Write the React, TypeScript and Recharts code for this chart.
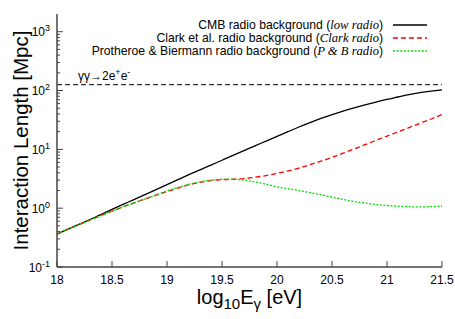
import React from 'react';
import { LineChart, Line, XAxis, YAxis, ReferenceLine, Legend } from 'recharts';

const energies = [
  18.0, 18.1, 18.2, 18.3, 18.4, 18.5, 18.6, 18.7, 18.8, 18.9,
  19.0, 19.1, 19.2, 19.3, 19.4, 19.5, 19.6, 19.7, 19.8, 19.9,
  20.0, 20.1, 20.2, 20.3, 20.4, 20.5, 20.6, 20.7, 20.8, 20.9,
  21.0, 21.1, 21.2, 21.3, 21.4, 21.5,
];

const cmbLength = [
  0.363, 0.44, 0.53, 0.64, 0.78, 0.955, 1.16, 1.4, 1.7, 2.07,
  2.51, 3.05, 3.72, 4.47, 5.4, 6.53, 7.89, 9.5, 11.5, 13.8,
  16.6, 19.95, 24.0, 28.5, 33.5, 38.9, 44.7, 50.7, 57.1, 63.8,
  70.8, 77.6, 85.1, 91.8, 97.7, 103,
];

const clarkLength = [
  0.363, 0.44, 0.525, 0.63, 0.75, 0.89, 1.05, 1.23, 1.43, 1.66,
  1.92, 2.2, 2.5, 2.75, 2.95, 3.04, 3.1, 3.18, 3.35, 3.58,
  3.9, 4.3, 4.8, 5.5, 6.3, 7.3, 8.6, 10.1, 12.0, 14.2,
  16.8, 19.8, 23.4, 27.7, 32.8, 39,
];

const pbLength = [
  0.363, 0.44, 0.525, 0.63, 0.75, 0.89, 1.05, 1.23, 1.44, 1.68,
  1.96, 2.25, 2.55, 2.8, 3.0, 3.1, 3.1, 3.0, 2.8, 2.55,
  2.3, 2.14, 1.99, 1.84, 1.69, 1.54, 1.41, 1.3, 1.22, 1.15,
  1.11, 1.08, 1.06, 1.05, 1.06, 1.08,
];

const pairThreshold = 126;

const xTicks = [18, 18.5, 19, 19.5, 20, 20.5, 21, 21.5];
const yMajorTicks = [0.1, 1, 10, 100, 1000];
const yMajorExponents = ['-1', '0', '1', '2', '3'];
const yMinorMultipliers = [2, 3, 4, 5, 6, 7, 8, 9];
const yAllTicks = [
  ...yMajorTicks,
  ...yMajorTicks.slice(0, 4).flatMap((d) => yMinorMultipliers.map((m) => +(d * m).toPrecision(3))),
];

const seriesKeys = ['cmb', 'clark', 'pb'];
const seriesLabels = ['CMB radio background', 'Clark et al. radio background', 'Protheroe & Biermann radio background'];
const seriesTags = ['low radio', 'Clark radio', 'P & B radio'];
const seriesColors = ['#000000', '#ff0000', '#00dd00'];
const seriesDashes = ['', '5 3', '2 1.6'];

const data = energies.map((e, i) => ({
  e,
  cmb: cmbLength[i],
  clark: clarkLength[i],
  pb: pbLength[i],
}));

const SANS = '"Liberation Sans", Arial, Helvetica, sans-serif';
const SERIF = '"Liberation Serif", "Times New Roman", serif';
const AXIS = '#444';

const majorIndex = (v: number) => yMajorTicks.findIndex((m) => Math.abs(m - v) < 1e-9);

const LeftTick = (props: any) => {
  const { x, y, payload } = props;
  const idx = majorIndex(payload.value);
  const major = idx >= 0;
  return (
    <g>
      <line x1={x} x2={x + (major ? 6 : 3)} y1={y} y2={y} stroke={AXIS} strokeWidth={1} />
      {major && (
        <text x={x - 7} y={y + 4.5} textAnchor="end" fontSize={12} fontFamily={SANS} fill="#000">
          10<tspan dy={-5} fontSize={9}>{yMajorExponents[idx]}</tspan>
        </text>
      )}
    </g>
  );
};

const RightTick = (props: any) => {
  const { x, y, payload } = props;
  const major = majorIndex(payload.value) >= 0;
  return <line x1={x} x2={x - (major ? 6 : 3)} y1={y} y2={y} stroke={AXIS} strokeWidth={1} />;
};

const BottomTick = (props: any) => {
  const { x, y, payload } = props;
  return (
    <g>
      <line x1={x} x2={x} y1={y} y2={y - 6} stroke={AXIS} strokeWidth={1} />
      <text x={x} y={y + 17} textAnchor="middle" fontSize={12} fontFamily={SANS} fill="#000">
        {payload.value}
      </text>
    </g>
  );
};

const TopTick = (props: any) => {
  const { x, y } = props;
  return <line x1={x} x2={x} y1={y} y2={y + 6} stroke={AXIS} strokeWidth={1} />;
};

const PairLabel = (props: any) => {
  const vb = props.viewBox || {};
  return (
    <text x={vb.x + 21} y={vb.y - 4.5} fontSize={12} fontFamily={SANS} fill="#000">
      γγ→2e<tspan dy={-5} fontSize={9}>+</tspan>
      <tspan dy={5}>e</tspan>
      <tspan dy={-5} fontSize={9}>-</tspan>
    </text>
  );
};

const XLabel = (props: any) => {
  const vb = props.viewBox || {};
  const cx = vb.x + vb.width / 2;
  return (
    <text x={cx} y={304} textAnchor="middle" fontSize={20} fontFamily={SANS} fill="#000">
      log<tspan dy={5} fontSize={15}>10</tspan>
      <tspan dy={-5}>E</tspan>
      <tspan dy={5} fontSize={15}>γ</tspan>
      <tspan dy={-5}> [eV]</tspan>
    </text>
  );
};

const YLabel = (props: any) => {
  const vb = props.viewBox || {};
  const cy = vb.y + vb.height / 2;
  return (
    <text
      x={28}
      y={cy}
      textAnchor="middle"
      fontSize={20.5}
      fontFamily={SANS}
      fill="#000"
      transform={`rotate(-90 28 ${cy})`}
    >
      Interaction Length [Mpc]
    </text>
  );
};

const rowCenters = [25.3, 38.3, 51.3];

const LegendContent = () => (
  <div style={{ position: 'relative', width: 455, height: 0 }}>
    {seriesKeys.map((k, i) => (
      <React.Fragment key={k}>
        <div
          style={{
            position: 'absolute',
            top: rowCenters[i] - 6,
            left: 0,
            width: 383,
            height: 12,
            textAlign: 'right',
            whiteSpace: 'nowrap',
            fontFamily: SANS,
            fontSize: 12.2,
            lineHeight: '12px',
            color: '#000',
          }}
        >
          {seriesLabels[i]} (<span style={{ fontFamily: SERIF, fontStyle: 'italic', fontSize: 12.6 }}>{seriesTags[i]}</span>)
        </div>
        <svg
          style={{ position: 'absolute', top: rowCenters[i] - 6, left: 393 }}
          width={35}
          height={12}
        >
          <line
            x1={0}
            x2={34}
            y1={6}
            y2={6}
            stroke={seriesColors[i]}
            strokeWidth={1.3}
            strokeDasharray={seriesDashes[i] || undefined}
          />
        </svg>
      </React.Fragment>
    ))}
  </div>
);

export default function App() {
  return (
    <div style={{ position: 'absolute', left: 0, top: 0, width: 455, height: 319, background: '#fff' }}>
      <LineChart width={455} height={319} data={data} margin={{ top: 14, right: 13, bottom: 0, left: 0 }}>
        <XAxis
          dataKey="e"
          type="number"
          domain={[18, 21.5]}
          ticks={xTicks}
          interval={0}
          height={52}
          tickLine={false}
          tickSize={0}
          tickMargin={0}
          axisLine={{ stroke: AXIS, strokeWidth: 1.5 }}
          tick={<BottomTick />}
          label={<XLabel />}
        />
        <XAxis
          xAxisId="top"
          dataKey="e"
          type="number"
          orientation="top"
          domain={[18, 21.5]}
          ticks={xTicks}
          interval={0}
          height={0}
          tickLine={false}
          tickSize={0}
          tickMargin={0}
          axisLine={{ stroke: AXIS, strokeWidth: 1.5 }}
          tick={<TopTick />}
        />
        <YAxis
          type="number"
          scale="log"
          domain={[0.1, 2000]}
          ticks={yAllTicks}
          interval={0}
          allowDataOverflow
          width={57}
          tickLine={false}
          tickSize={0}
          tickMargin={0}
          axisLine={{ stroke: AXIS, strokeWidth: 1.5 }}
          tick={<LeftTick />}
          label={<YLabel />}
        />
        <YAxis
          yAxisId="right"
          orientation="right"
          type="number"
          scale="log"
          domain={[0.1, 2000]}
          ticks={yAllTicks}
          interval={0}
          allowDataOverflow
          width={0}
          tickLine={false}
          tickSize={0}
          tickMargin={0}
          axisLine={{ stroke: AXIS, strokeWidth: 1.5 }}
          tick={<RightTick />}
        />
        <ReferenceLine
          y={pairThreshold}
          stroke="#333"
          strokeWidth={1.3}
          strokeDasharray="5 3"
          label={<PairLabel />}
        />
        {seriesKeys.map((k, i) => (
          <Line
            key={k}
            dataKey={k}
            type="monotone"
            stroke={seriesColors[i]}
            strokeWidth={1.3}
            strokeDasharray={seriesDashes[i] || undefined}
            dot={false}
            activeDot={false}
            isAnimationActive={false}
          />
        ))}
        <Legend
          layout="vertical"
          align="center"
          verticalAlign="middle"
          wrapperStyle={{ top: 0, left: 0, width: 455, height: 0 }}
          content={<LegendContent />}
        />
      </LineChart>
    </div>
  );
}
